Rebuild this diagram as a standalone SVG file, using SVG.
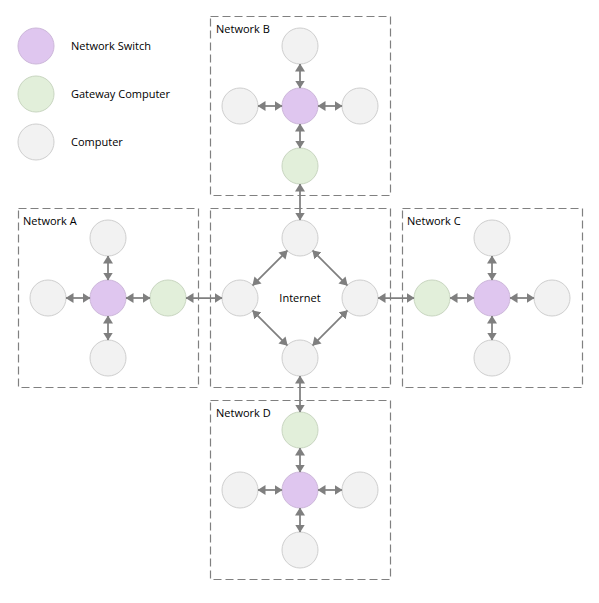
<svg xmlns="http://www.w3.org/2000/svg" width="599" height="603" viewBox="0 0 599 603">
<style>
.box{fill:none;stroke:#808080;stroke-width:1.2;stroke-dasharray:8 4}
.sw{fill:#dfc6ef;stroke:#cdb8da;stroke-width:1}
.gw{fill:#e2efda;stroke:#c9d6c1;stroke-width:1}
.pc{fill:#f2f2f2;stroke:#cfcfcf;stroke-width:1}
.lbl{font-family:"Open Sans","Noto Sans",sans-serif;font-size:11px;fill:#000}
.c line{stroke:#7f7f7f;stroke-width:1.75;marker-start:url(#ah);marker-end:url(#ah)}
</style>
<defs>
<marker id="ah" viewBox="0 0 8 10" refX="7.5" refY="5" markerWidth="8" markerHeight="10" markerUnits="userSpaceOnUse" orient="auto-start-reverse">
<path d="M0,0 L8,5 L0,10 z" fill="#7f7f7f"/>
</marker>
</defs>
<rect width="599" height="603" fill="#fff"/>

<g id="legend">
<circle class="sw" cx="36" cy="46" r="18"/>
<text class="lbl" x="71" y="50">Network Switch</text>
<circle class="gw" cx="36" cy="94" r="18"/>
<text class="lbl" x="71" y="98">Gateway Computer</text>
<circle class="pc" cx="36" cy="142" r="18"/>
<text class="lbl" x="71" y="146">Computer</text>
</g>

<g id="networkA">
<rect class="box" x="18.5" y="208.5" width="180" height="179"/>
<text class="lbl" x="23" y="225">Network A</text>
<circle class="pc" cx="108" cy="238" r="18"/>
<circle class="pc" cx="48" cy="298" r="18"/>
<circle class="sw" cx="108" cy="298" r="18"/>
<circle class="gw" cx="168" cy="298" r="18"/>
<circle class="pc" cx="108" cy="358" r="18"/>
</g>

<g id="networkB">
<rect class="box" x="210.5" y="16.5" width="180" height="179"/>
<text class="lbl" x="216" y="33">Network B</text>
<circle class="pc" cx="300" cy="46" r="18"/>
<circle class="pc" cx="240" cy="106" r="18"/>
<circle class="sw" cx="300" cy="106" r="18"/>
<circle class="pc" cx="360" cy="106" r="18"/>
<circle class="gw" cx="300" cy="166" r="18"/>
</g>

<g id="internet">
<rect class="box" x="210.5" y="208.5" width="180" height="179"/>
<text class="lbl" x="300" y="302" text-anchor="middle">Internet</text>
<circle class="pc" cx="300" cy="238" r="18"/>
<circle class="pc" cx="240" cy="298" r="18"/>
<circle class="pc" cx="360" cy="298" r="18"/>
<circle class="pc" cx="300" cy="358" r="18"/>
</g>

<g id="networkC">
<rect class="box" x="402.5" y="208.5" width="180" height="179"/>
<text class="lbl" x="407" y="225">Network C</text>
<circle class="pc" cx="492" cy="238" r="18"/>
<circle class="gw" cx="432" cy="298" r="18"/>
<circle class="sw" cx="492" cy="298" r="18"/>
<circle class="pc" cx="552" cy="298" r="18"/>
<circle class="pc" cx="492" cy="358" r="18"/>
</g>

<g id="networkD">
<rect class="box" x="210.5" y="400.5" width="180" height="179"/>
<text class="lbl" x="216" y="417">Network D</text>
<circle class="gw" cx="300" cy="430" r="18"/>
<circle class="pc" cx="240" cy="490" r="18"/>
<circle class="sw" cx="300" cy="490" r="18"/>
<circle class="pc" cx="360" cy="490" r="18"/>
<circle class="pc" cx="300" cy="550" r="18"/>
</g>

<g id="connectors" class="c">
<line x1="108" y1="280" x2="108" y2="256"/>
<line x1="90" y1="298" x2="66" y2="298"/>
<line x1="108" y1="316" x2="108" y2="340"/>
<line x1="126" y1="298" x2="150" y2="298"/>
<line x1="186" y1="298" x2="222" y2="298"/>

<line x1="300" y1="88" x2="300" y2="64"/>
<line x1="282" y1="106" x2="258" y2="106"/>
<line x1="318" y1="106" x2="342" y2="106"/>
<line x1="300" y1="124" x2="300" y2="148"/>
<line x1="300" y1="184" x2="300" y2="220"/>

<line x1="252.7" y1="285.3" x2="287.3" y2="250.7"/>
<line x1="312.7" y1="250.7" x2="347.3" y2="285.3"/>
<line x1="347.3" y1="310.7" x2="312.7" y2="345.3"/>
<line x1="287.3" y1="345.3" x2="252.7" y2="310.7"/>
<line x1="378" y1="298" x2="414" y2="298"/>
<line x1="300" y1="376" x2="300" y2="412"/>

<line x1="450" y1="298" x2="474" y2="298"/>
<line x1="510" y1="298" x2="534" y2="298"/>
<line x1="492" y1="280" x2="492" y2="256"/>
<line x1="492" y1="316" x2="492" y2="340"/>

<line x1="300" y1="448" x2="300" y2="472"/>
<line x1="282" y1="490" x2="258" y2="490"/>
<line x1="318" y1="490" x2="342" y2="490"/>
<line x1="300" y1="508" x2="300" y2="532"/>
</g>
</svg>
